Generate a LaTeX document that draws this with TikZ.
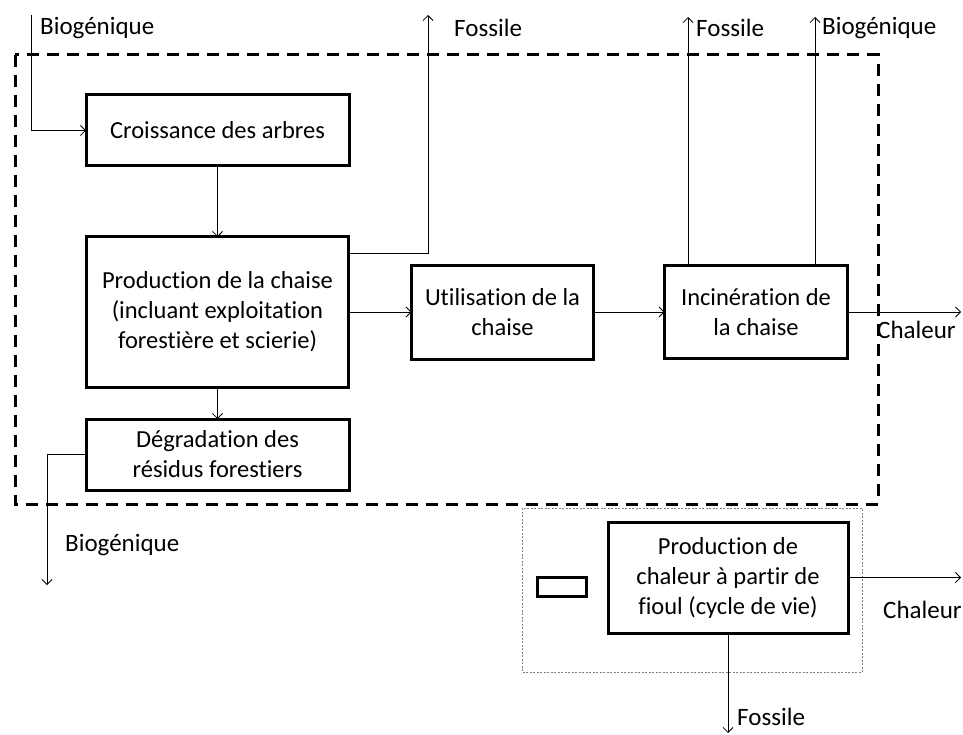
\documentclass[tikz,border=0pt]{standalone}
\usepackage{fontspec}
\setmainfont[Ligatures=NoCommon]{Carlito}
\usetikzlibrary{arrows.meta, positioning}

\begin{document}
\begin{tikzpicture}[
    x=1pt, y=-1pt,
    box/.style={rectangle, draw=black, line width=3pt, inner sep=0pt, outer sep=0pt, align=center, font=\fontsize{24.5}{30}\selectfont},
    lbl/.style={anchor=west, inner sep=0pt, font=\fontsize{25}{30}\selectfont},
    boundary/.style={line width=3pt, dash pattern=on 12pt off 8pt},
    scenario/.style={gray, line width=0.8pt, dash pattern=on 2pt off 1.5pt},
    arrow/.style={line width=0.8pt, -{Straight Barb[length=5pt,width=10pt]}}
]
\useasboundingbox (0,0) rectangle (963,735);

% System boundaries
\draw[boundary] (15,55) rectangle (878,504);
\draw[scenario] (522,508) rectangle (862,672);

% Chair life cycle
\node[box, minimum width=263pt, minimum height=71pt] (grow) at (217.5,130.5) {Croissance des arbres};
\node[box, minimum width=262pt, minimum height=150pt, below=71pt of grow] (prod) {Production de la chaise\\(incluant exploitation\\forestière et scierie)};
\node[box, minimum width=263pt, minimum height=71pt, below=32pt of prod] (degr) {Dégradation des\\résidus forestiers};
\node[box, minimum width=182pt, minimum height=94pt, right=63pt of prod] (use) {Utilisation de la\\chaise};
\node[box, minimum width=183pt, minimum height=93pt, right=71pt of use] (incin) {Incinération de\\la chaise};

% Avoided heat production
\node[box, minimum width=240pt, minimum height=111pt] (fuel) at (728,577.5) {Production de\\chaleur à partir de\\fioul (cycle de vie)};
\node[box, minimum width=49pt, minimum height=19pt] (legend) at (561.5,586.5) {};

% Free ends
\coordinate (bioin) at (31,15);
\coordinate (fosprod) at (428,15);
\coordinate (fosincin) at (688,17);
\coordinate (bioincin) at (815,17);
\coordinate (heatincin) at (961,311);
\coordinate (bioout) at (47,585);
\coordinate (heatfuel) at (961,582);
\coordinate (fosfuel) at (727,733);

% Arrows
\draw[arrow] (bioin) |- (grow);
\draw[arrow] (grow) -- (prod);
\draw[arrow] ([yshift=59pt]prod.east) -| (fosprod);
\draw[arrow] (prod) -- (use);
\draw[arrow] (use) -- (incin);
\draw[arrow] (incin.north -| fosincin) -- (fosincin);
\draw[arrow] (incin.north -| bioincin) -- (bioincin);
\draw[arrow] (incin.east) -- (incin.east -| heatincin);
\draw[arrow] (prod) -- (degr);
\draw[arrow] (degr.west) -| (bioout);
\draw[arrow] (fuel.east) -- (fuel.east -| heatfuel);
\draw[arrow] (fuel.south) -- (fuel.south |- fosfuel);

% Flow labels
\node[lbl] (biotop) at (40,28) {Biogénique};
\node[lbl] (fostop) at (454,28) {Fossile};
\node[lbl] (fosinc) at (696,28) {Fossile};
\node[lbl] (bioinc) at (822,28) {Biogénique};
\node[lbl] (heatinc) at (877,330) {Chaleur};
\node[lbl] (biobot) at (65,545) {Biogénique};
\node[lbl] (heatbot) at (883,610) {Chaleur};
\node[lbl] (fosbot) at (737,717) {Fossile};

\end{tikzpicture}
\end{document}
